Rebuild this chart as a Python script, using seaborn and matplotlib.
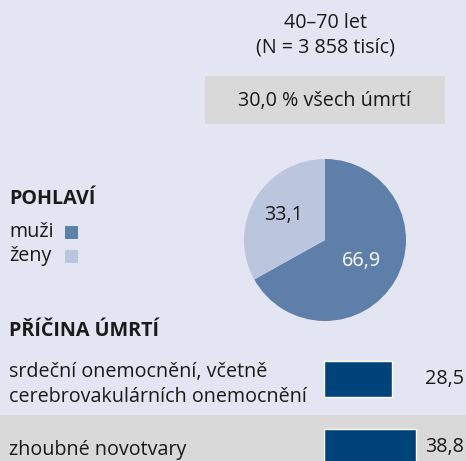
import matplotlib
matplotlib.use("Agg")
import matplotlib.pyplot as plt
import seaborn as sns
from matplotlib.patches import Rectangle
from matplotlib.transforms import blended_transform_factory
import numpy as np

# data
age_title = "40–70 let"
n_title = "(N = 3 858 tisíc)"
share_label = "30,0 % všech úmrtí"
sex_header = "POHLAVÍ"
sex_names = ["muži", "ženy"]
sex_values = [66.9, 33.1]
cause_header = "PŘÍČINA ÚMRTÍ"
causes = ["srdeční onemocnění, včetně\ncerebrovakulárních onemocnění", "zhoubné novotvary"]
cause_values = [28.5, 38.8]

bg_col = "#e4e5f3"
band_col = "#d9d9d9"
pie_cols = ["#5f7fab", "#bcc5de"]
bar_col = "#00427a"
txt_col = "#1a1a1a"

sns.set_style("white")
plt.rcParams["font.family"] = ["Open Sans", "DejaVu Sans"]
fs = 14.2

W, H = 466, 461
fig = plt.figure(figsize=(W / 100, H / 100), dpi=100, facecolor=bg_col)

# background / layout axes in pixel coords
bg = fig.add_axes([0, 0, 1, 1])
bg.set_xlim(0, W)
bg.set_ylim(H, 0)
bg.axis("off")

bg.text(325, 23, age_title, ha="center", va="center", fontsize=fs, color=txt_col)
bg.text(325, 48, n_title, ha="center", va="center", fontsize=fs, color=txt_col)
bg.add_patch(Rectangle((205, 76), 240, 48, color=band_col, lw=0))
bg.text(325, 101, share_label, ha="center", va="center", fontsize=fs, color=txt_col)

bg.text(9, 199, sex_header, ha="left", va="center", fontsize=fs, fontweight="bold", color=txt_col)
for i, (name, col) in enumerate(zip(sex_names, pie_cols)):
    y = 232 + i * 24
    bg.text(9, y, name, ha="left", va="center", fontsize=fs, color=txt_col)
    bg.add_patch(Rectangle((65, y - 6.5), 13, 13, color=col, lw=0))

bg.text(9, 331, cause_header, ha="left", va="center", fontsize=fs, fontweight="bold", color=txt_col)
bg.add_patch(Rectangle((0, 415), W, 46, color=band_col, lw=0))

# pie
cx, cy, r = 325, 240, 81
pax = fig.add_axes([(cx - r) / W, (H - cy - r) / H, 2 * r / W, 2 * r / H])
wedges, _ = pax.pie(sex_values, colors=pie_cols, startangle=90, counterclock=False,
                    wedgeprops=dict(linewidth=0))
pax.set_xlim(-1, 1)
pax.set_ylim(-1, 1)
label_r = [0.52, 0.6]
text_cols = ["white", txt_col]
for w, v, lr, tc in zip(wedges, sex_values, label_r, text_cols):
    ang = np.deg2rad((w.theta1 + w.theta2) / 2)
    pax.text(lr * np.cos(ang), lr * np.sin(ang), f"{v:.1f}".replace(".", ","),
             ha="center", va="center", fontsize=fs, color=tc)

# bars
x0, x1 = 324, W
y_top, y_bot = 345, H
row_gap = 68
bax = fig.add_axes([x0 / W, (H - y_bot) / H, (x1 - x0) / W, (y_bot - y_top) / H])
bax.patch.set_alpha(0)
sns.barplot(x=cause_values, y=causes, orient="h", color=bar_col, width=36 / row_gap,
            saturation=1, ax=bax)
bax.set_xlim(0, (x1 - x0) / 2.38)
bax.set_ylim((y_bot - 379) / row_gap, -(379 - y_top) / row_gap)
for s in bax.spines.values():
    s.set_visible(False)
bax.set_xticks([])
bax.tick_params(axis="y", length=0, pad=(x0 - 9) * 0.72)
for t in bax.get_yticklabels():
    t.set_ha("left")
    t.set_fontsize(fs)
    t.set_color(txt_col)
    t.set_linespacing(1.35)
bax.set_xlabel("")
bax.set_ylabel("")
tr = blended_transform_factory(bax.transAxes, bax.transData)
for i, v in enumerate(cause_values):
    bax.text((464 - x0) / (x1 - x0), i, f"{v:.1f}".replace(".", ","),
             transform=tr, ha="right", va="center", fontsize=fs, color=txt_col)

fig.savefig("out.png", dpi=100, facecolor=bg_col)
